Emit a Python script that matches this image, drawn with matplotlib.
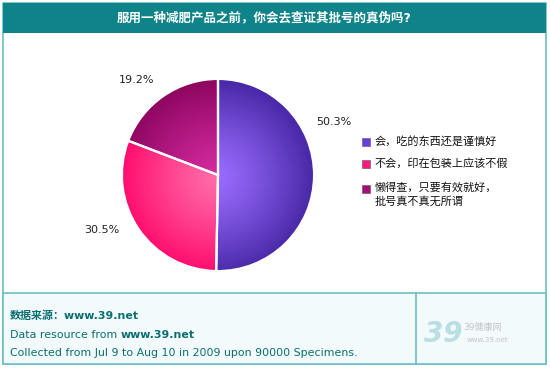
import matplotlib
matplotlib.use("Agg")
import matplotlib.pyplot as plt
import numpy as np
from matplotlib.patches import Rectangle
from matplotlib.colors import LinearSegmentedColormap

plt.rcParams['font.family'] = ['DejaVu Sans', 'Noto Sans CJK SC']

# data
title = "服用一种减肥产品之前，你会去查证其批号的真伪吗?"
labels = ["会，吃的东西还是谨慎好", "不会，印在包装上应该不假", "懒得查，只要有效就好，\n批号真不真无所谓"]
values = [50.3, 30.5, 19.2]
inner_colors = ["#9a6cff", "#ff6aa8", "#d42aa0"]
outer_colors = ["#4a2aa8", "#ff0a6c", "#8e0660"]
legend_colors = ["#6a3fe0", "#ff1a80", "#a4107a"]

W, H = 550, 368
fig = plt.figure(figsize=(5.5, 3.68), dpi=100)
bg = fig.add_axes([0, 0, 1, 1])
bg.set_xlim(0, W)
bg.set_ylim(H, 0)
bg.axis("off")

teal = "#0e8389"
border = "#6cbfc4"
# outer frame
bg.add_patch(Rectangle((3, 3), 543, 361, facecolor="white", edgecolor=border, lw=1.2))
# title bar
bg.add_patch(Rectangle((3, 3), 543, 30, facecolor=teal, edgecolor="none"))
bg.text(W / 2 - 11, 18, title, color="white", fontsize=9, fontweight="bold",
        ha="center", va="center")
# footer
bg.add_patch(Rectangle((3, 293), 543, 71, facecolor="#f2fafb", edgecolor=border, lw=1.2))
bg.plot([416, 416], [293, 364], color=border, lw=1.2)

txt_col = "#0a6e72"
fs = 7.9
bg.text(10, 316, "数据来源：www.39.net", color=txt_col, fontsize=fs, fontweight="bold", va="center")
t1 = bg.text(10, 335, "Data resource from ", color=txt_col, fontsize=fs, va="center")
bg.annotate("www.39.net", xy=(1, 0), xycoords=t1, va="bottom", ha="left",
            color=txt_col, fontsize=fs, fontweight="bold")
bg.text(10, 353, "Collected from Jul 9 to Aug 10 in 2009 upon 90000 Specimens.",
        color=txt_col, fontsize=fs, va="center")

# logo
logo_col = "#b9dfe2"
bg.text(424, 334, "39", color=logo_col, fontsize=20, fontweight="bold", style="italic",
        va="center", ha="left")
bg.text(463, 327, "39健康网", color="#c4c4c4", fontsize=6.5, va="center")
bg.text(467, 340, "www.39.net", color="#c4c4c4", fontsize=5, va="center")

# pie
cx, cy, r = 218, 175, 98
pax = fig.add_axes([(cx - r) / W, (H - cy - r) / H, 2 * r / W, 2 * r / H])
wedges, _ = pax.pie(values, startangle=90, counterclock=False, radius=1,
                    colors=inner_colors,
                    wedgeprops=dict(edgecolor="white", linewidth=1.6))
pax.set_xlim(-1.02, 1.02)
pax.set_ylim(-1.02, 1.02)
pax.set_aspect("equal")
pax.axis("off")

yy, xx = np.mgrid[-1:1:300j, -1:1:300j]
rr = np.clip(np.hypot(xx + 0.03, yy + 0.03) / 1.0, 0, 1)
for w, ci, co in zip(wedges, inner_colors, outer_colors):
    cmap = LinearSegmentedColormap.from_list("g", [ci, co])
    im = pax.imshow(rr ** 1.2, cmap=cmap, extent=(-1, 1, -1, 1), origin="lower",
                    vmin=0, vmax=1, zorder=w.get_zorder() + 0.1)
    im.set_clip_path(w)
    w.set_facecolor("none")
    w.set_zorder(w.get_zorder() + 0.2)

# percentage labels
pct_pos = [(334, 122), (102, 230), (137, 80)]
for v, (px, py) in zip(values, pct_pos):
    bg.text(px, py, f"{v:.1f}%", fontsize=8, color="#222222", ha="center", va="center")

# legend
leg_y = [142, 164, 189]
for lab, c, ly in zip(labels, legend_colors, leg_y):
    bg.add_patch(Rectangle((362, ly - 4.5), 8, 8, facecolor=c, edgecolor="#555555", lw=0.4))
    if "\n" in lab:
        bg.text(375, ly - 7, lab, fontsize=8, color="#111111", va="top", linespacing=1.35)
    else:
        bg.text(375, ly - 0.5, lab, fontsize=8, color="#111111", va="center")

fig.savefig("out.png", dpi=100)
